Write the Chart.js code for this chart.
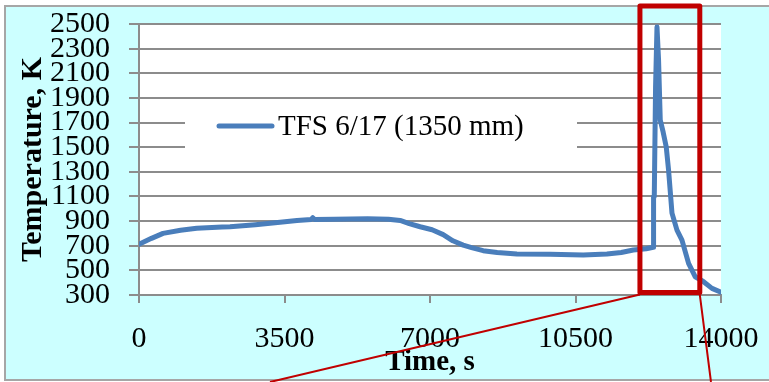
<!DOCTYPE html>
<html>
<head>
<meta charset="utf-8">
<script src="https://cdn.jsdelivr.net/npm/chart.js@4.4.1/dist/chart.umd.min.js"></script>
<style>
  html, body { margin: 0; padding: 0; background: #fff; }
  #wrap { width: 769px; height: 382px; }
</style>
</head>
<body>
<div id="wrap"><canvas id="chart" width="769" height="382"></canvas></div>
<script>
// ---- data ----
const timeS = [
  0, 300, 578, 1000, 1388, 2000, 2190, 2800, 3393, 3800, 4140, 4180, 4220,
  4700, 5500, 6000, 6282, 6500, 6763, 7050, 7317, 7550, 7798, 8000, 8279,
  8616, 9090, 9892, 10686, 11256, 11600, 11890, 12200, 12370, 12378, 12395,
  12426, 12460, 12498, 12539, 12610, 12683, 12739, 12821, 12941, 13061,
  13220, 13381, 13581, 13783, 14000
];
const tempK = [
  712, 760, 800, 825, 842, 852, 854, 870, 890, 905, 913, 927, 913,
  915, 918, 915, 905, 880, 854, 830, 790, 740, 705, 685, 660,
  645, 632, 630, 625, 632, 645, 665, 675, 688, 1097, 1097,
  1989, 2476, 2206, 1719, 1620, 1502, 1313, 965, 827, 746,
  557, 448, 408, 354, 322
];
const seriesName = 'TFS 6/17 (1350 mm)';
const xTicks = [0, 3500, 7000, 10500, 14000];
const yTicks = [300, 500, 700, 900, 1100, 1300, 1500, 1700, 1900, 2100, 2300, 2500];
const zoomRange = [12050, 13490];   // highlighted time window, s

const SERIF = "'Liberation Serif', 'Times New Roman', serif";
const LINE_BLUE = '#4a7ebb';
const GRID = '#8c8c8c';
const RED = '#c00000';

const bgPlugin = {
  id: 'bg',
  beforeDraw(chart) {
    const { ctx, chartArea: a, width, height } = chart;
    ctx.save();
    ctx.fillStyle = '#fff';
    ctx.fillRect(0, 0, width, height);
    ctx.fillStyle = '#ccffff';
    ctx.fillRect(5, 6, width, height - 8);
    ctx.strokeStyle = '#a6a6a6';
    ctx.lineWidth = 2;
    ctx.strokeRect(5, 6, width, height - 8);
    ctx.fillStyle = '#fff';
    ctx.fillRect(a.left, a.top, a.right - a.left, a.bottom - a.top);
    ctx.restore();
  }
};

// legend box sits over the gridlines, under the line
const legendPlugin = {
  id: 'boxLegend',
  beforeDatasetsDraw(chart) {
    const ctx = chart.ctx;
    ctx.save();
    ctx.fillStyle = '#fff';
    ctx.fillRect(185, 104, 392, 56);
    ctx.strokeStyle = LINE_BLUE;
    ctx.lineWidth = 5;
    ctx.lineCap = 'round';
    ctx.beginPath();
    ctx.moveTo(219, 126);
    ctx.lineTo(272, 126);
    ctx.stroke();
    ctx.fillStyle = '#000';
    ctx.font = '29px ' + SERIF;
    ctx.textBaseline = 'middle';
    ctx.fillText(seriesName, 278, 127);
    ctx.restore();
  }
};

// red zoom frame and its leader lines
const framePlugin = {
  id: 'zoomFrame',
  afterDraw(chart) {
    const { ctx, scales: { x, y }, height } = chart;
    const x0 = x.getPixelForValue(zoomRange[0]);
    const x1 = x.getPixelForValue(zoomRange[1]);
    const yb = y.getPixelForValue(320);
    ctx.save();
    ctx.strokeStyle = RED;
    ctx.lineJoin = 'round';
    ctx.lineWidth = 5;
    ctx.strokeRect(x0, 6, x1 - x0, yb - 6);
    ctx.lineWidth = 2;
    ctx.beginPath();
    ctx.moveTo(x0, yb + 2);
    ctx.lineTo(270, height);
    ctx.moveTo(x1, yb + 2);
    ctx.lineTo(711, height);
    ctx.stroke();
    ctx.restore();
  }
};

const plainNum = v => String(v);

function buildChart() {
  const ctx = document.getElementById('chart');
  return new Chart(ctx, {
    type: 'scatter',
    data: {
      datasets: [{
        label: seriesName,
        data: timeS.map((t, i) => ({ x: t, y: tempK[i] })),
        showLine: true,
        borderColor: LINE_BLUE,
        backgroundColor: LINE_BLUE,
        borderWidth: 5,
        borderJoinStyle: 'round',
        borderCapStyle: 'round',
        pointRadius: 0,
        tension: 0
      }]
    },
    options: {
      responsive: false,
      devicePixelRatio: 1,
      animation: false,
      layout: { padding: { left: 5, top: 24, right: 48, bottom: 0 } },
      plugins: { legend: { display: false }, tooltip: { enabled: false } },
      scales: {
        x: {
          type: 'linear',
          min: 0, max: 14000,
          afterBuildTicks: s => { s.ticks = xTicks.map(v => ({ value: v })); },
          afterFit: s => { s.height = 87; s.paddingLeft = 0; s.paddingRight = 0; },
          grid: { drawOnChartArea: false, color: GRID, lineWidth: 2, tickLength: 8 },
          border: { color: GRID, width: 2 },
          ticks: { color: '#000', padding: 18, maxRotation: 0, autoSkip: false, callback: plainNum, font: { family: SERIF, size: 30 } },
          title: {
            display: true, text: 'Time, s', color: '#000',
            padding: { top: 0, bottom: 2 },
            font: { family: SERIF, size: 29, weight: 'bold' }
          }
        },
        y: {
          min: 300, max: 2500,
          afterBuildTicks: s => { s.ticks = yTicks.map(v => ({ value: v })); },
          afterFit: s => { s.width = 134; s.paddingTop = 0; s.paddingBottom = 0; },
          grid: { color: GRID, lineWidth: 2, tickLength: 10 },
          border: { color: GRID, width: 2 },
          ticks: { color: '#000', padding: 19, autoSkip: false, callback: plainNum, font: { family: SERIF, size: 30 } },
          title: {
            display: true, text: 'Temperature, K', color: '#000',
            padding: { top: 10, bottom: 0 },
            font: { family: SERIF, size: 30, weight: 'bold' }
          }
        }
      }
    },
    plugins: [bgPlugin, legendPlugin, framePlugin]
  });
}

document.addEventListener('DOMContentLoaded', buildChart);
</script>
</body>
</html>
